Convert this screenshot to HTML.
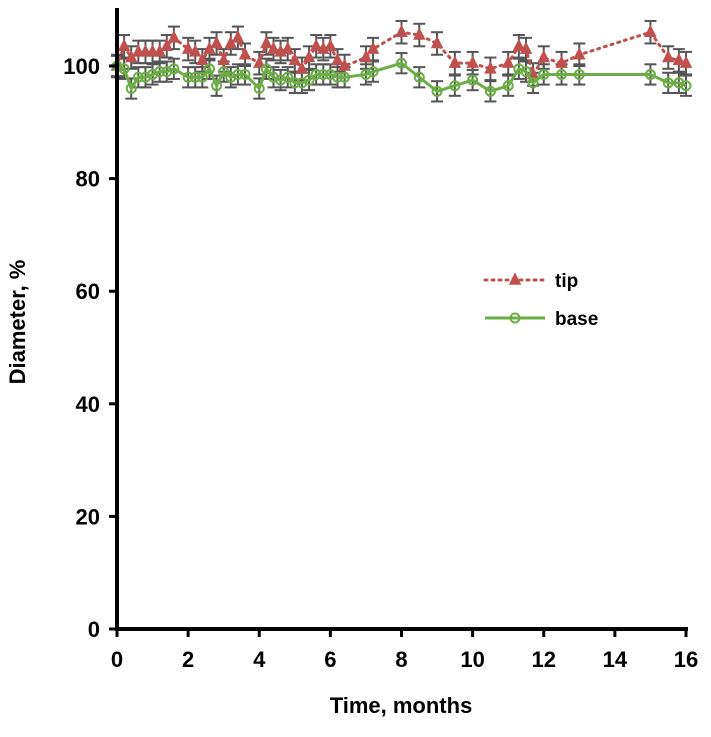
<!DOCTYPE html>
<html><head><meta charset="utf-8"><style>
body{margin:0;background:#fff;}
svg text{font-family:"Liberation Sans",sans-serif;font-weight:bold;fill:#000;}
</style></head><body>
<svg id="chart" width="711" height="732" xmlns="http://www.w3.org/2000/svg"></svg>
<script>
const months = [0,0.2,0.4,0.6,0.8,1.0,1.2,1.4,1.6,2.0,2.2,2.4,2.6,2.8,3.0,3.2,3.4,3.6,4.0,4.2,4.4,4.6,4.8,5.0,5.2,5.4,5.6,5.8,6.0,6.2,6.4,7.0,7.2,8.0,8.5,9.0,9.5,10.0,10.5,11.0,11.3,11.5,11.7,12.0,12.5,13.0,15.0,15.5,15.8,16.0];
const tipValues = [100,103.5,101.5,102.5,102.5,102.5,102.5,103.5,105,103,102.5,101,103,104,101,104,105,102,100.5,104,103,102.5,103,101,99.5,101.5,103.5,103,103.5,101,100,101.5,103,106,105.5,104,100.5,100.5,99.5,100.5,103.5,103,98.5,101.5,100.5,102,106,101.5,101,100.5];
const baseValues = [100,99.5,96,98,98,98.5,99,99,99.5,98,98,98,99.5,96.5,99,98,98.5,98.5,96,99.5,98,97.5,98,97,97,97.5,98.5,98.5,98.5,98,98,98.5,99,100.5,98,95.5,96.5,97.5,95.5,96.5,99.5,99,97,98.5,98.5,98.5,98.5,97,97,96.5];
const errTip = 2, errBase = 1.8;
const xTicks = [0,2,4,6,8,10,12,14,16];
const yTicks = [0,20,40,60,80,100];

const svg = document.getElementById('chart');
const NS = 'http://www.w3.org/2000/svg';
const X = v => 117 + v * (686-117)/16;
const Y = v => 629 - v * (629-66)/100;
function mk(tag, attrs, parent){const e=document.createElementNS(NS,tag);for(const k in attrs)e.setAttribute(k,attrs[k]);(parent||svg).appendChild(e);return e;}

function errs(vals, err, name){
  const g = mk('g',{});
  
  
  vals.forEach((v,i)=>{
    const x=X(months[i]);
    mk('line',{x1:x,x2:x,y1:Y(v+err),y2:Y(v-err),stroke:'#555','stroke-width':2},g);
    mk('line',{x1:x-6,x2:x+6,y1:Y(v+err),y2:Y(v+err),stroke:'#555','stroke-width':2},g);
    mk('line',{x1:x-6,x2:x+6,y1:Y(v-err),y2:Y(v-err),stroke:'#555','stroke-width':2},g);
  });
}
errs(tipValues, errTip, 'tip-error-bars');
errs(baseValues, errBase, 'base-error-bars');

const tipLine = mk('polyline',{points:months.map((m,i)=>X(m)+','+Y(tipValues[i])).join(' '),fill:'none',stroke:'#c0504d','stroke-width':3,'stroke-dasharray':'2,5','stroke-linecap':'round'});


function tri(x,y,g){return mk('polygon',{points:`${x},${y-6} ${x-5},${y+4} ${x+5},${y+4}`,fill:'#c0504d',stroke:'#c0504d','stroke-width':1.5},g);}
tipValues.forEach((v,i)=>{
  const p = tri(X(months[i]),Y(v));
  
  
});
const baseLine = mk('polyline',{points:months.map((m,i)=>X(m)+','+Y(baseValues[i])).join(' '),fill:'none',stroke:'#6aae45','stroke-width':3});


baseValues.forEach((v,i)=>{
  const c = mk('circle',{cx:X(months[i]),cy:Y(v),r:4.5,fill:'none',stroke:'#6aae45','stroke-width':2});
  
  
});

const ax = mk('g',{});


mk('line',{x1:117,x2:117,y1:8,y2:631,stroke:'#000','stroke-width':4},ax);
mk('line',{x1:115,x2:688,y1:629,y2:629,stroke:'#000','stroke-width':4},ax);
yTicks.forEach(t=>{
  mk('line',{x1:109,x2:117,y1:Y(t),y2:Y(t),stroke:'#000','stroke-width':3},ax);
  const tx = mk('text',{x:100,y:Y(t)+8,'text-anchor':'end','font-size':22},ax);
  tx.textContent=t;
  
  
});
xTicks.forEach(t=>{
  mk('line',{x1:X(t),x2:X(t),y1:629,y2:637,stroke:'#000','stroke-width':3},ax);
  const tx = mk('text',{x:X(t),y:667,'text-anchor':'middle','font-size':22},ax);
  tx.textContent=t;
  
  
});
const xt = mk('text',{x:401,y:713,'text-anchor':'middle','font-size':22});
xt.textContent='Time, months';


const yt = mk('text',{x:0,y:0,'text-anchor':'middle','font-size':22,transform:'translate(25,322) rotate(-90)'});
yt.textContent='Diameter, %';



const lg = mk('g',{});


const l1 = mk('g',{},lg);


mk('line',{x1:485,x2:545,y1:280,y2:280,stroke:'#c0504d','stroke-width':3,'stroke-dasharray':'2,5','stroke-linecap':'round'},l1);
tri(515,280,l1);
const t1 = mk('text',{x:555,y:287,'font-size':19},l1); t1.textContent='tip';
const l2 = mk('g',{},lg);


mk('line',{x1:485,x2:545,y1:318,y2:318,stroke:'#6aae45','stroke-width':3},l2);
mk('circle',{cx:515,cy:318,r:4.5,fill:'none',stroke:'#6aae45','stroke-width':2},l2);
const t2 = mk('text',{x:555,y:325,'font-size':19},l2); t2.textContent='base';
</script>
</body></html>
